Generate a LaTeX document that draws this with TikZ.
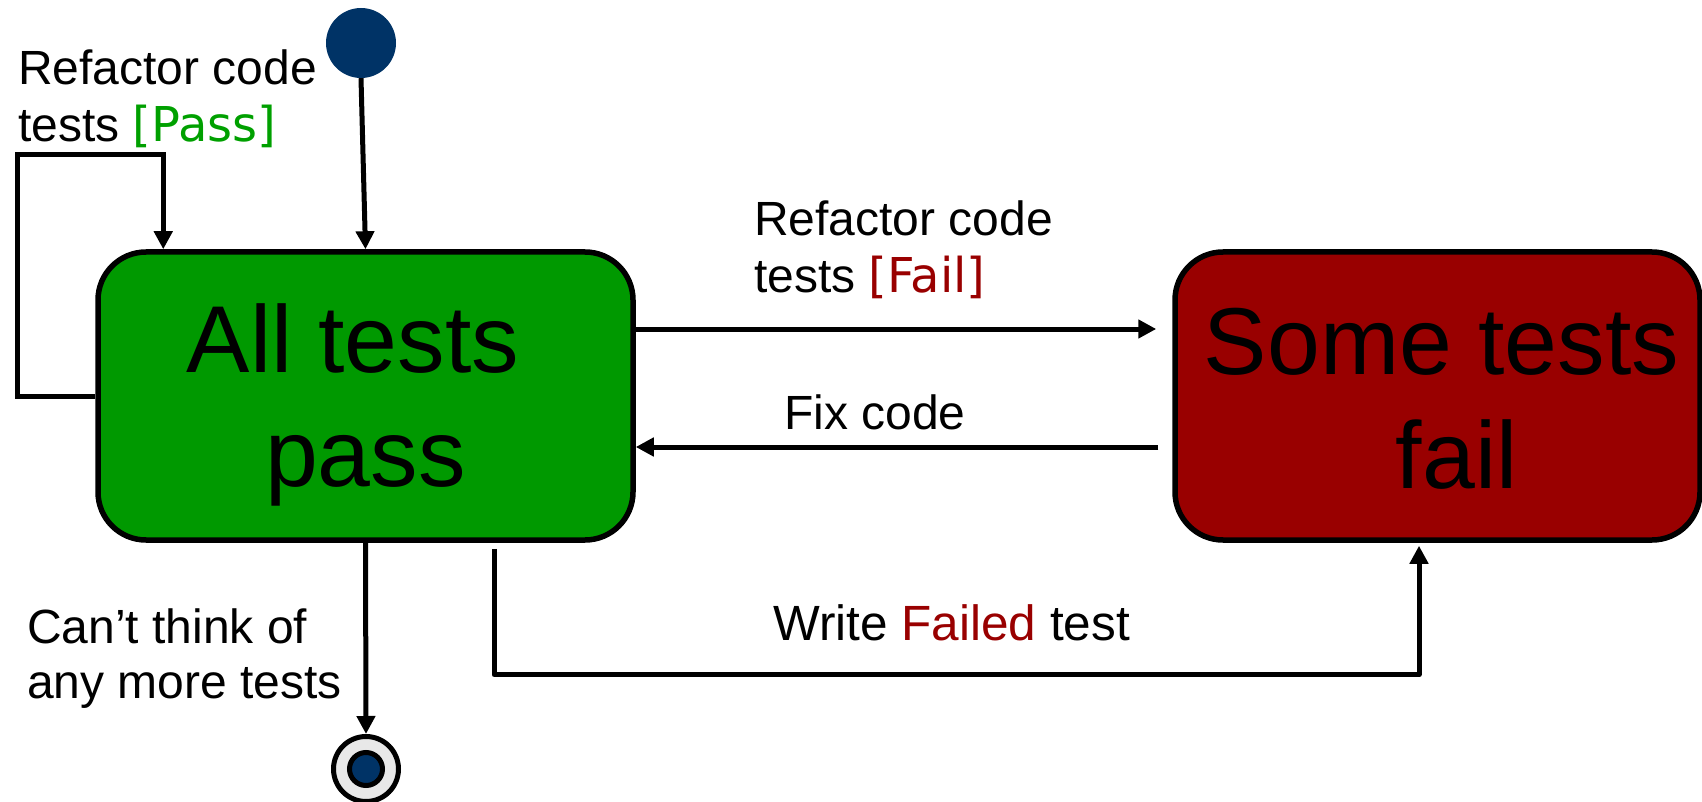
\documentclass[tikz,border=0pt]{standalone}
\usepackage{fontspec}
\setmainfont{Liberation Sans}
\newfontfamily\guardfont{DejaVu Sans}
\usetikzlibrary{arrows.meta}
\definecolor{passgreen}{RGB}{0,153,0}
\definecolor{failred}{RGB}{153,0,0}
\definecolor{startblue}{RGB}{0,51,102}
\definecolor{guardgreen}{RGB}{0,160,0}
\definecolor{finalgray}{RGB}{232,232,232}
\begin{document}
\begin{tikzpicture}[x=1pt,y=-1pt,
  statebox/.style={draw=black, line width=5.5pt, rounded corners=48pt,
    minimum height=288pt, inner sep=0pt},
  statetext/.style={align=center, inner sep=0pt,
    font=\fontsize{95}{114}\selectfont},
  lbl/.style={align=left, inner sep=0pt, anchor=base west,
    font=\fontsize{48}{57}\selectfont},
  flow/.style={line width=5pt, -{Triangle[length=18pt,width=18pt]}},
  initstate/.style={circle, fill=startblue, minimum size=70pt, inner sep=0pt},
  finalstate/.style={circle, draw=black, line width=5pt, fill=finalgray,
    minimum size=65pt, inner sep=0pt}
]
\useasboundingbox (0,0) rectangle (1702,802);

% states
\node[statebox, fill=passgreen, minimum width=535pt] (pass) at (365.5,396) {};
\node[statetext, yshift=-9pt] (passtxt) at (pass.center) {All tests\kern25pt\\pass};
\node[statebox, fill=failred, minimum width=525pt] (fail) at (1437.5,396) {};
\node[statetext, xshift=19pt, yshift=-3pt] (failtxt) at (fail.center) {Some tests\kern30pt\\fail};

% initial and final pseudo-states
\node[initstate] (init) at (361,43) {};
\node[finalstate] (final) at (366,769) {};
\draw[line width=5pt, fill=startblue] (final.center) circle[radius=16.5];

% transitions
\draw[flow] (init.south) -- (pass.north);
\draw[flow] (pass.west) -- ++(-78,0) -- ++(0,-241) -| ([xshift=68pt]pass.north west);
\draw[flow] ([yshift=67pt]pass.east) -- ([xshift=-16pt,yshift=67pt]fail.west);
\draw[flow] ([xshift=-14pt,yshift=-51pt]fail.west) -- ([yshift=-51pt]pass.east);
\draw[flow, line join=round] ([xshift=128.5pt,yshift=-6pt]pass.south) -- ++(0,126)
  -| ([xshift=-18.5pt,yshift=-3pt]fail.south);
\draw[flow] (pass.south) -- (final.north);

% transition labels (anchored on the baseline of their last line)
\node[lbl] (selflbl) at (18,142) {Refactor code\\tests {\guardfont\color{guardgreen}[Pass]}};
\node[lbl] (refaclbl) at (754,293) {Refactor code\\tests {\guardfont\color{failred}[Fail]}};
\node[lbl] (fixlbl) at (784,429) {Fix code};
\node[lbl, font=\fontsize{49.5}{57}\selectfont] (writelbl) at (773,640) {Write {\color{failred}Failed} test};
\node[lbl, font=\fontsize{48}{55}\selectfont] (endlbl) at (27,698) {Can’t think of\\any more tests};
\end{tikzpicture}
\end{document}
